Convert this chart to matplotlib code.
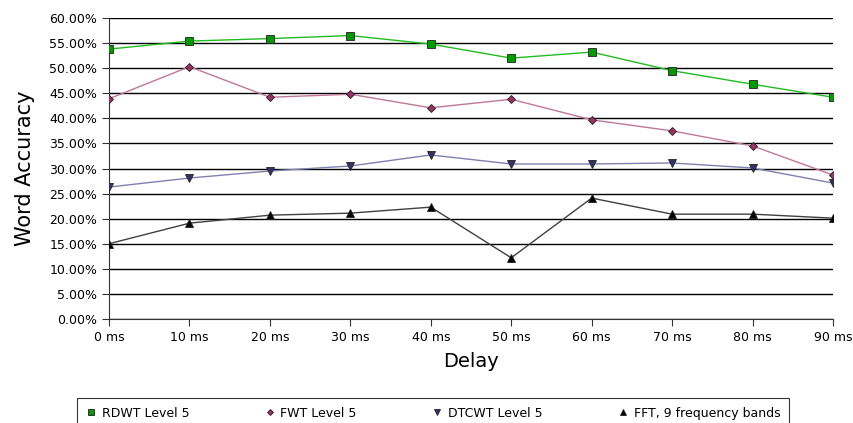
import numpy as np
import matplotlib.pyplot as plt
from matplotlib.lines import Line2D
from matplotlib.ticker import FuncFormatter

# delays and word accuracy (%) for each method
delays = ['0 ms', '10 ms', '20 ms', '30 ms', '40 ms', '50 ms', '60 ms', '70 ms', '80 ms', '90 ms']
rdwt = [53.8, 55.4, 55.9, 56.5, 54.8, 52.0, 53.2, 49.5, 46.8, 44.2]
fwt = [43.9, 50.3, 44.2, 44.8, 42.1, 43.8, 39.7, 37.5, 34.5, 28.7]
dtcwt = [26.3, 28.1, 29.5, 30.5, 32.7, 30.9, 30.9, 31.1, 30.1, 27.1]
fft = [15.0, 19.1, 20.7, 21.1, 22.3, 12.2, 24.1, 20.9, 20.9, 20.1]

series = [
    ('RDWT Level 5', rdwt, '#22bb22', 's', '#009900', 6),
    ('FWT Level 5', fwt, '#c07898', 'D', '#993366', 4),
    ('DTCWT Level 5', dtcwt, '#8080b0', 'v', '#333366', 6),
    ('FFT, 9 frequency bands', fft, '#404040', '^', '#000000', 6),
]

fig = plt.figure(figsize=(8.54, 4.23), dpi=100)
ax = fig.add_axes([109/854, 1-319/423, (833-109)/854, (319-18)/423])

x = np.arange(len(delays))
handles = []
for name, vals, lc, mk, mc, ms in series:
    ax.plot(x, vals, color=lc, lw=1, zorder=3)
    ax.plot(x, vals, ls='none', marker=mk, markersize=ms, markerfacecolor=mc,
            markeredgecolor='#202020', markeredgewidth=0.6, zorder=4)
    handles.append(Line2D([], [], ls='none', marker=mk, markersize=ms-1,
                          markerfacecolor=mc, markeredgecolor='#202020',
                          markeredgewidth=0.6, label=name))

ax.set_xlim(0, 9)
ax.set_ylim(0, 60)
ax.set_yticks(np.arange(0, 61, 5))
ax.yaxis.set_major_formatter(FuncFormatter(lambda v, p: '%.2f%%' % v))
ax.set_xticks(x)
ax.set_xticklabels(delays)
ax.yaxis.grid(True, color='black', lw=1)
ax.set_axisbelow(True)
for s in ['top', 'right']:
    ax.spines[s].set_visible(False)
ax.spines['left'].set_color('#333333')
ax.spines['bottom'].set_color('#333333')
ax.tick_params(axis='both', labelsize=9, colors='#333333', length=5, labelcolor='black')

ax.set_xlabel('Delay', fontsize=14, labelpad=6)
ax.set_ylabel('Word Accuracy', fontsize=15, labelpad=10)

leg = fig.legend(handles=handles, loc='upper center', ncol=4,
                 bbox_to_anchor=(0.507, 1-398/423), fontsize=9,
                 frameon=True, fancybox=False, edgecolor='black',
                 borderpad=0.7, columnspacing=6.0, handletextpad=0.4,
                 handlelength=0.9, borderaxespad=0)
leg.get_frame().set_linewidth(0.8)

fig.savefig('out.png', dpi=100)
